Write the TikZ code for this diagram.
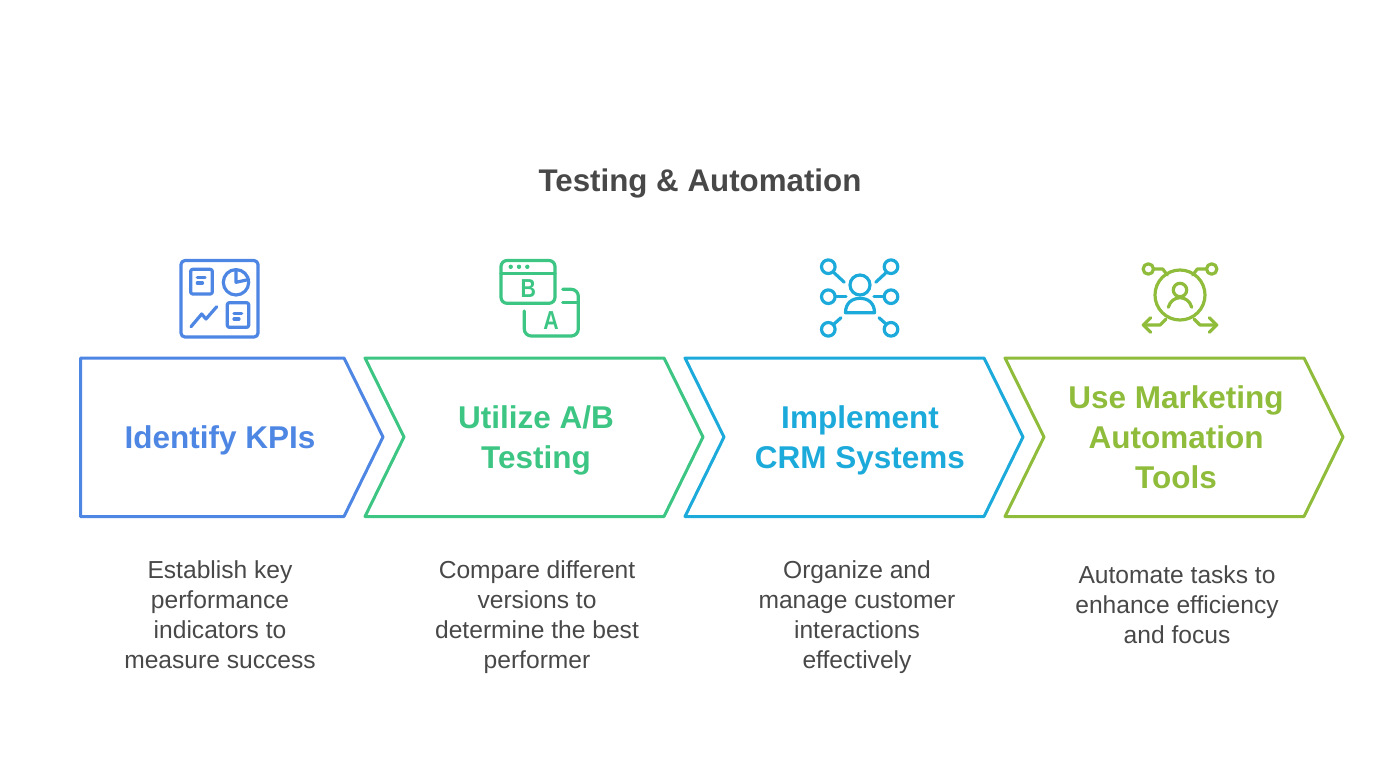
\documentclass[tikz,border=0pt]{standalone}
\usepackage{fontspec}
\setmainfont{Liberation Sans}
\definecolor{cblue}{HTML}{4E86E4}
\definecolor{cgreen}{HTML}{3CC583}
\definecolor{ccyan}{HTML}{1CAADB}
\definecolor{colive}{HTML}{8FBC3B}
\definecolor{ctext}{HTML}{484848}
\tikzset{
  chev/.style={line width=3pt,line join=round},
  ico/.style={line width=3.2pt,line cap=round,line join=round},
  head/.style={font=\fontsize{31.5}{40}\selectfont\bfseries,align=center,inner sep=0pt},
  desc/.style={font=\fontsize{24.6}{30}\selectfont,text=ctext,align=center,inner sep=0pt},
  ttl/.style={font=\fontsize{31.3}{38}\selectfont\bfseries,text=ctext,inner sep=0pt},
  letter/.style={font=\fontsize{26}{26}\selectfont\bfseries,inner sep=0pt,xscale=.82}
}
\begin{document}
\begin{tikzpicture}[x=1pt,y=-1pt]
\useasboundingbox (0,0) rectangle (1400,756);
\node[ttl] (title) at (700,183) {Testing \& Automation};
% chevrons
\draw[chev,draw=cblue] (80.5,358)--(344,358)--(383,437)--(344,516.5)--(80.5,516.5)--cycle;
\draw[chev,draw=cgreen] (365,358)--(664,358)--(703,437)--(664,516.5)--(365,516.5)--(404,437)--cycle;
\draw[chev,draw=ccyan] (685,358)--(984,358)--(1023,437)--(984,516.5)--(685,516.5)--(724,437)--cycle;
\draw[chev,draw=colive] (1005,358)--(1304,358)--(1343,437)--(1304,516.5)--(1005,516.5)--(1044,437)--cycle;
% headings
\node[head,text=cblue] (h1) at (220,440) {Identify KPIs};
\node[head,text=cgreen] (h2) at (536,440) {Utilize A/B\\Testing};
\node[head,text=ccyan] (h3) at (860,440) {Implement\\CRM Systems};
\node[head,text=colive] (h4) at (1176,437) {Use Marketing\\Automation\\Tools};
% descriptions
\node[desc] (d1) at (220,615) {Establish key\\performance\\indicators to\\measure success};
\node[desc] (d2) at (537,617) {Compare different\\versions to\\determine the best\\performer};
\node[desc] (d3) at (857,617) {Organize and\\manage customer\\interactions\\effectively};
\node[desc] (d4) at (1177,605) {Automate tasks to\\enhance efficiency\\and focus};
% icon 1
\begin{scope}[ico,cblue]
\draw[rounded corners=4pt] (181,260.5) rectangle (258,337);
\draw[rounded corners=2pt] (190.7,269.3) rectangle (212.3,294);
\draw (197.3,277.3)--(205,277.3) (197.3,283)--(202.5,283);
\draw (236,282.3) circle (12.7);
\draw (236,269.6)--(236,282.3)--(248.7,279.5);
\draw[rounded corners=2pt] (227.3,302.7) rectangle (248.7,327.3);
\draw (234,313.3)--(241.7,313.3) (234,319)--(239,319);
\draw (191,326.7)--(201.7,314)--(206,319)--(216.7,306.7);
\end{scope}
% icon 2
\begin{scope}[ico,cgreen]
\draw[rounded corners=6pt] (501,260.5) rectangle (555,303.3);
\draw (501,273.3)--(555,273.3);
\fill (510.7,266.8) circle (2.2) (519,266.8) circle (2.2) (527.3,266.8) circle (2.2);
\node[letter,text=cgreen] (b) at (528.3,288.5) {B};
\draw[rounded corners=7pt] (524.3,311)--(524.3,336)--(578.3,336)--(578.3,289.3)--(562.7,289.3);
\draw (562.7,302.7)--(578.3,302.7);
\node[letter,text=cgreen] (a) at (551,320.7) {A};
\end{scope}
% icon 3
\begin{scope}[ico,ccyan]
\draw (860,285) circle (10);
\draw (845.5,312.7)--(874.5,312.7) .. controls (874.5,303) and (868,298.3) .. (860,298.3) .. controls (852,298.3) and (845.5,303) .. cycle;
\foreach \x/\y in {828.3/266.7,891/266.7,828.3/296.7,891/296.7,828.3/329.3,891/329.3}
  \draw (\x,\y) circle (6.8);
\draw (834,272.7)--(844.3,282.3) (886,272.7)--(875.7,282.3);
\draw (836,296.7)--(846,296.7) (883.3,296.7)--(874,296.7);
\draw (834,324)--(841,317.7) (886,324)--(879,317.7);
\end{scope}
% icon 4
\begin{scope}[ico,colive]
\draw (1180,295) circle (25);
\draw (1180,290) circle (6.7);
\draw (1168.3,307.3) .. controls (1170,301) and (1175,297.7) .. (1180,297.7) .. controls (1185,297.7) and (1190,301) .. (1191.7,307.3);
\draw (1148.3,269) circle (5.2) (1211.7,269) circle (5.2);
\draw (1153.5,269)--(1162.7,269)--(1167.3,275);
\draw (1206.5,269)--(1197.3,269)--(1192.7,275);
\draw (1166,319)--(1160,325)--(1143.3,325);
\draw (1150.7,317.7)--(1143.3,325)--(1150.7,332.3);
\draw (1194,319)--(1200,325)--(1216.7,325);
\draw (1209.3,317.7)--(1216.7,325)--(1209.3,332.3);
\end{scope}
\end{tikzpicture}
\end{document}
